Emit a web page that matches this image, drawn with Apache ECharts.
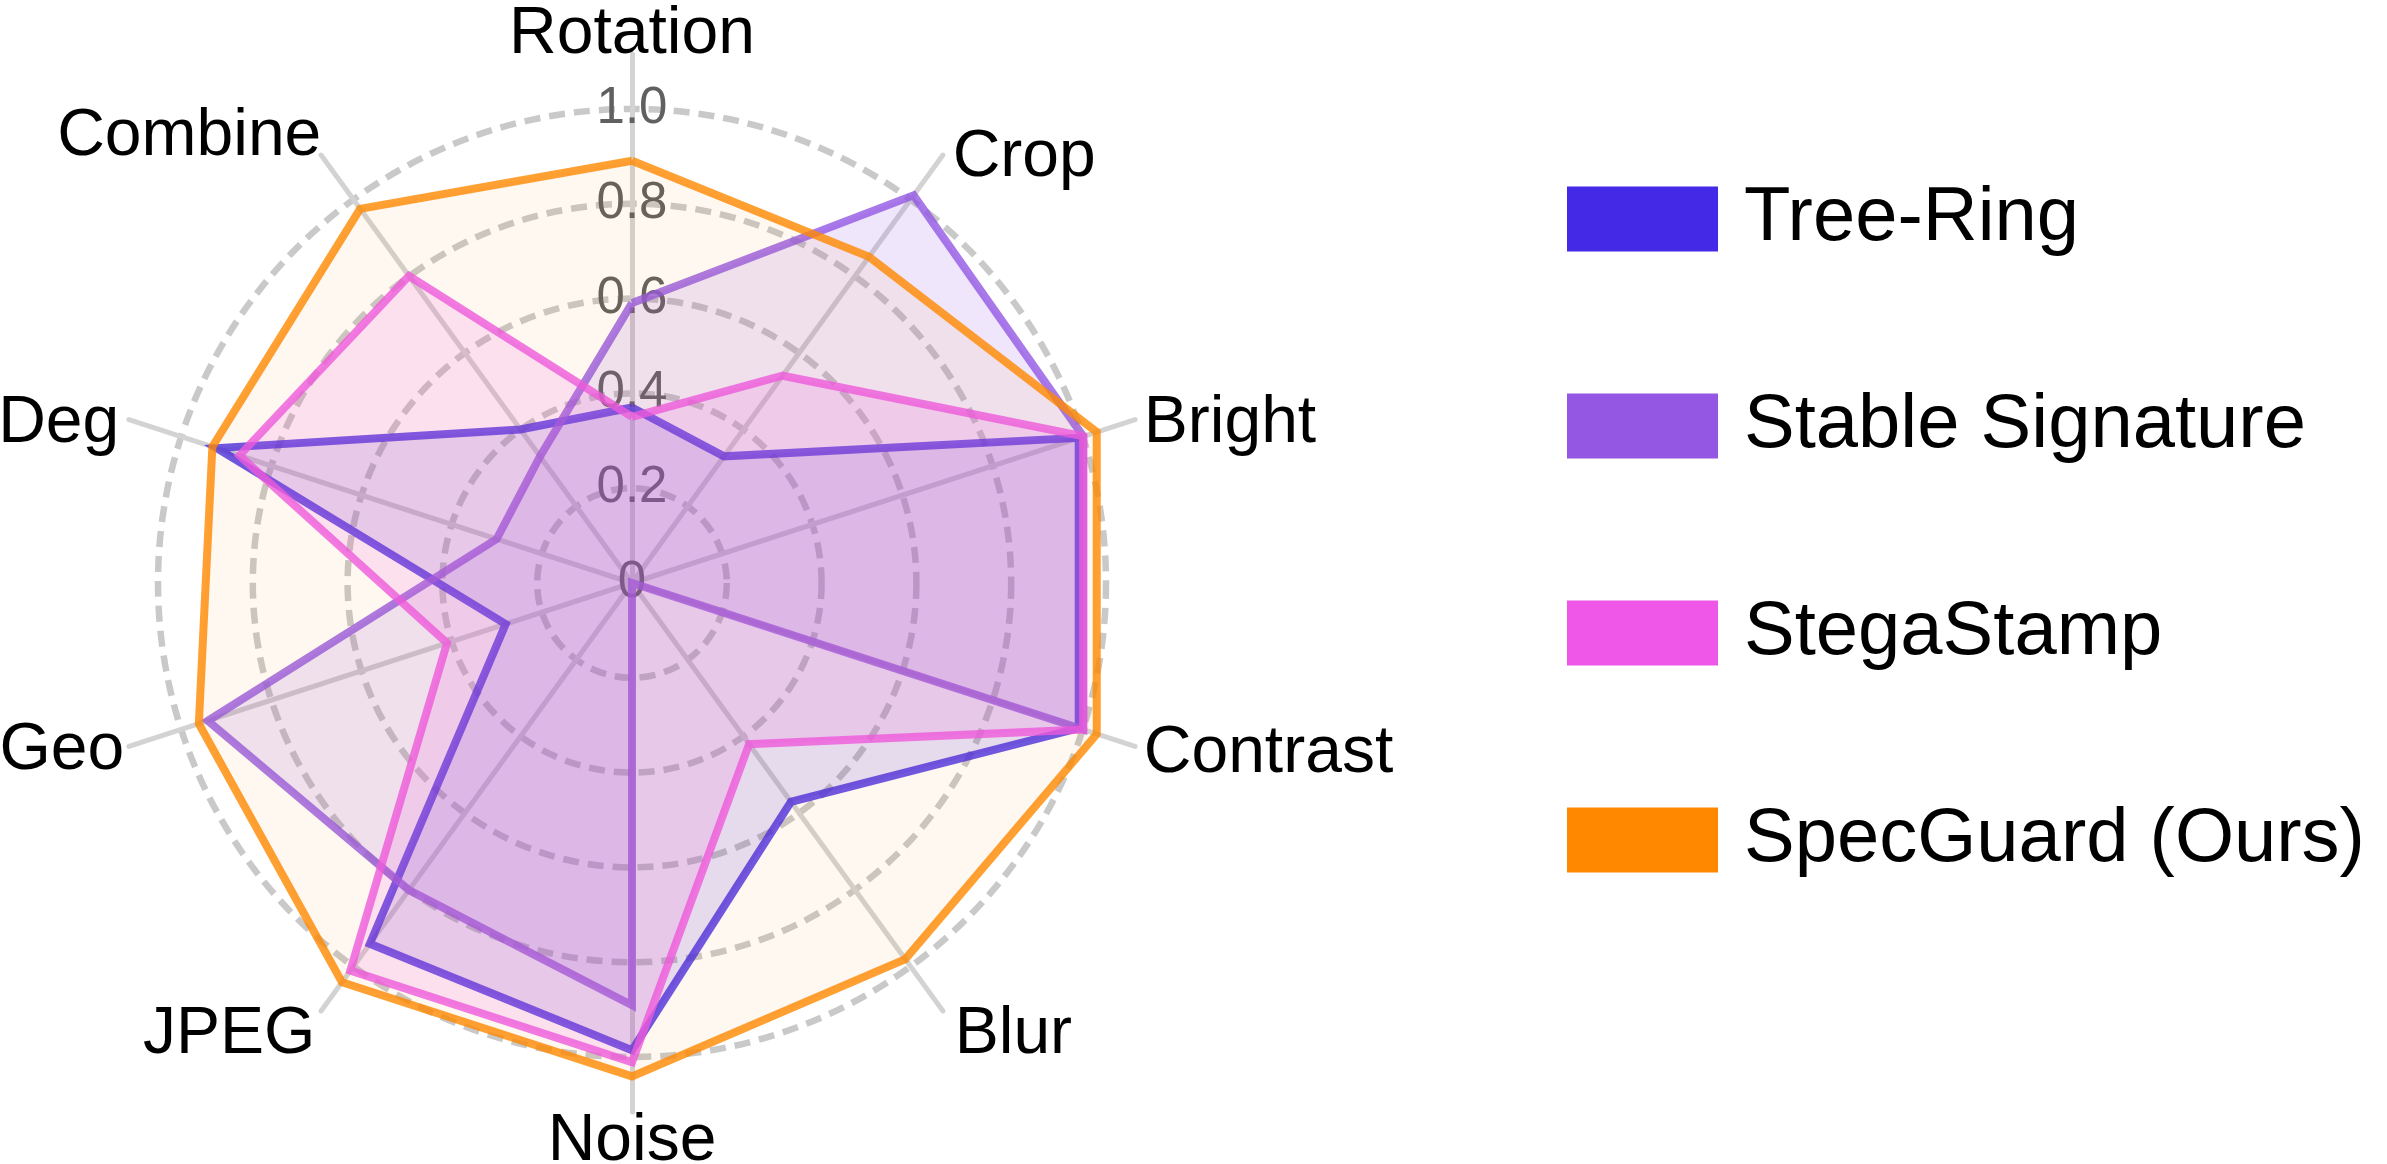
<!DOCTYPE html>
<html>
<head>
<meta charset="utf-8">
<script src="https://cdn.jsdelivr.net/npm/echarts@6/dist/echarts.min.js"></script>
<style>
html,body{margin:0;padding:0;background:#fff;}
#chart{width:2387px;height:1164px;}
</style>
</head>
<body>
<div id="chart"></div>
<script>
// Indicator order as ECharts lays them out (counter-clockwise from the top)
const indicators = ['Rotation', 'Combine', 'Deg', 'Geo', 'JPEG', 'Noise', 'Blur', 'Contrast', 'Bright', 'Crop'];
const seriesNames = ['Tree-Ring', 'Stable Signature', 'StegaStamp', 'SpecGuard (Ours)'];
const treeRing    = [0.37, 0.40, 0.92, 0.28, 0.94, 0.985, 0.57, 0.99, 0.99, 0.33];
const stableSig   = [0.59, 0.33, 0.30, 0.94, 0.80, 0.89, 0.00, 1.00, 1.00, 1.01];
const stegaStamp  = [0.35, 0.80, 0.87, 0.41, 1.01, 1.01, 0.42, 1.00, 1.00, 0.54];
const specGuard   = [0.89, 0.975, 0.93, 0.96, 1.04, 1.04, 0.98, 1.03, 1.03, 0.85];
const radialTicks = [0, 0.2, 0.4, 0.6, 0.8, 1.0];
const radialMax = 1.115;

const colors = ['#4429E6', '#9457E3', '#EE57E8', '#FF8800'];
const fillOpacity = [0.14, 0.15, 0.15, 0.06];
const values = [treeRing, stableSig, stegaStamp, specGuard];
const FONT = "'Liberation Sans', Arial, sans-serif";

// label placement tweaks (padding per axis name: [top, right, bottom, left])
const namePad = {
  Rotation: [0, 0, 0, 0],
  Noise:    [11, 0, 0, 0],
  Crop:     [0, 0, 18, 18],
  Bright:   [0, 0, 0, 22],
  Contrast: [24, 0, 0, 22],
  Blur:     [70, 0, 0, 20],
  JPEG:     [70, 14, 0, 0],
  Geo:      [18, 18, 0, 0],
  Deg:      [0, 23, 0, 0],
  Combine:  [0, 8, 60, 0]
};

const chart = echarts.init(document.getElementById('chart'), null, {renderer: 'canvas'});
const center = [632, 583];

const rich = {};
indicators.forEach((n, i) => {
  rich['n' + i] = {fontSize: 66, color: '#000', fontFamily: FONT, padding: namePad[n]};
});

chart.setOption({
  backgroundColor: '#ffffff',
  animation: false,
  legend: {
    orient: 'vertical',
    left: 1562,
    top: 176,
    itemWidth: 151,
    itemHeight: 65,
    itemGap: 131,
    icon: 'rect',
    selectedMode: false,
    textStyle: {fontSize: 76, color: '#000', fontFamily: FONT, padding: [0, 0, 0, 21]},
    data: seriesNames.map((n, i) => ({name: n, itemStyle: {color: colors[i], opacity: 1, borderWidth: 0}}))
  },
  polar: {center: center, radius: 474},
  angleAxis: {
    type: 'value', startAngle: 90, min: 0, max: 360,
    axisLine: {show: false}, axisTick: {show: false}, axisLabel: {show: false}, splitLine: {show: false}
  },
  radiusAxis: {
    type: 'value', min: 0, max: 1, interval: 0.2,
    axisLine: {show: false}, axisTick: {show: false},
    axisLabel: {
      show: true, margin: 0, align: 'center', verticalAlign: 'middle', padding: [0, 0, 16, 0],
      fontSize: 51, color: '#606060', fontFamily: FONT,
      formatter: v => {
        const t = radialTicks.find(x => Math.abs(x - v) < 1e-6);
        return t === undefined ? '' : (t === 0 ? '0' : t.toFixed(1));
      }
    },
    splitLine: {show: true, lineStyle: {color: '#c9c9c9', width: 6.5, type: [16, 9]}}
  },
  radar: {
    center: center,
    radius: Math.round(474 * radialMax),
    startAngle: 90,
    shape: 'circle',
    indicator: indicators.map(n => ({name: n, min: 0, max: radialMax})),
    nameGap: -14,
    axisName: {
      color: '#000', fontSize: 66, fontFamily: FONT,
      formatter: n => '{n' + indicators.indexOf(n) + '|' + n + '}',
      rich: rich
    },
    axisLine: {show: true, lineStyle: {color: '#d3d3d3', width: 5}},
    axisTick: {show: false},
    axisLabel: {show: false},
    splitLine: {show: false},
    splitArea: {show: false}
  },
  series: seriesNames.map((n, i) => ({
    type: 'radar',
    name: n,
    symbol: 'none',
    z: 2 + i,
    itemStyle: {color: colors[i]},
    lineStyle: {color: colors[i], width: 8, opacity: 0.8, join: 'miter'},
    areaStyle: {color: colors[i], opacity: fillOpacity[i]},
    data: [{name: n, value: values[i]}]
  }))
});
</script>
</body>
</html>
